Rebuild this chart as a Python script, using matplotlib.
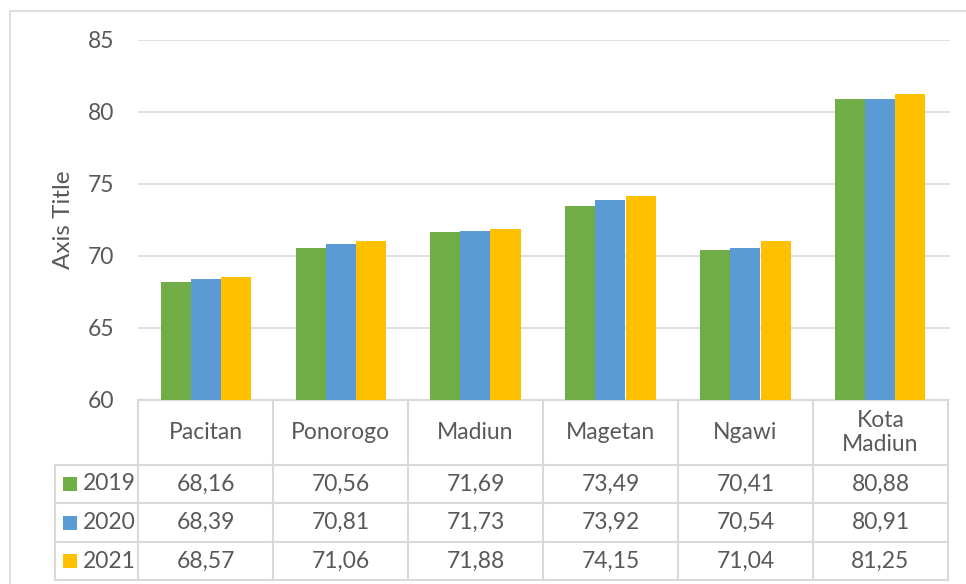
import matplotlib.pyplot as plt
import numpy as np
from matplotlib.transforms import blended_transform_factory
from matplotlib.patches import Rectangle

# data
categories = ['Pacitan', 'Ponorogo', 'Madiun', 'Magetan', 'Ngawi', 'Kota\nMadiun']
years = ['2019', '2020', '2021']
v2019 = [68.16, 70.56, 71.69, 73.49, 70.41, 80.88]
v2020 = [68.39, 70.81, 71.73, 73.92, 70.54, 80.91]
v2021 = [68.57, 71.06, 71.88, 74.15, 71.04, 81.25]
colors = ['#70AD47', '#5B9BD5', '#FFC000']

plt.rcParams['font.family'] = ['Lato', 'DejaVu Sans']
txt = '#595959'
grid = '#D9D9D9'
fs = 16.5
W, H = 966, 584

fig = plt.figure(figsize=(W / 100, H / 100), dpi=100)
# outer chart border
fig.patches.append(Rectangle((10 / W, -0.1), 1.1, (H - 11) / H + 0.1,
                             transform=fig.transFigure, fill=False,
                             edgecolor=grid, lw=1.2))

ax = fig.add_axes([138 / W, (H - 400) / H, (950 - 138) / W, 360 / H])
x = np.arange(len(categories))
bw = 30 / 135
series = [v2019, v2020, v2021]
for i, vals in enumerate(series):
    ax.bar(x + (i - 1) * bw, np.array(vals) - 60, bw, bottom=60,
           color=colors[i], zorder=3)

ax.set_xlim(-0.5, len(categories) - 0.5 + 2 / 135)
ax.set_ylim(60, 85)
ax.set_yticks([60, 65, 70, 75, 80, 85])
ax.yaxis.grid(True, color=grid, lw=1.2, zorder=0)
ax.tick_params(axis='y', length=0, pad=17, labelsize=fs, labelcolor=txt)
ax.tick_params(axis='x', length=0, labelbottom=False)
for s in ax.spines.values():
    s.set_visible(False)
ax.set_ylabel('Axis Title', fontsize=17.5, color=txt, labelpad=10)

# data table drawn below the axes
tr = blended_transform_factory(ax.transData, ax.transAxes)
px = 1 / 360
rows_y = [0, -65 * px, -103 * px, -142 * px, -180 * px]
left = -0.5 - 83 / 135
right = len(categories) - 0.5
lkw = dict(color=grid, lw=1.5, transform=tr, clip_on=False)
# horizontal lines
ax.plot([-0.5, right], [0, 0], **lkw)
for yy in rows_y[1:]:
    ax.plot([left, right], [yy, yy], **lkw)
# vertical lines
for k in range(len(categories) + 1):
    ax.plot([k - 0.5, k - 0.5], [0, rows_y[-1]], **lkw)
ax.plot([left, left], [rows_y[1], rows_y[-1]], **lkw)

for j, c in enumerate(categories):
    ax.text(j, (rows_y[0] + rows_y[1]) / 2, c, ha='center', va='center',
            fontsize=fs, color=txt, transform=tr, linespacing=1.15)
for i, vals in enumerate(series):
    yc = (rows_y[i + 1] + rows_y[i + 2]) / 2
    for j, v in enumerate(vals):
        ax.text(j, yc, f'{v:.2f}'.replace('.', ','), ha='center', va='center',
                fontsize=fs, color=txt, transform=tr)
    ax.add_patch(Rectangle((left + 8 / 135, yc - 7 * px), 14 / 135, 14 * px,
                           facecolor=colors[i], edgecolor='none',
                           transform=tr, clip_on=False))
    ax.text(left + 28 / 135, yc, years[i], ha='left', va='center',
            fontsize=fs, color=txt, transform=tr)

fig.savefig('out.png', dpi=100)
